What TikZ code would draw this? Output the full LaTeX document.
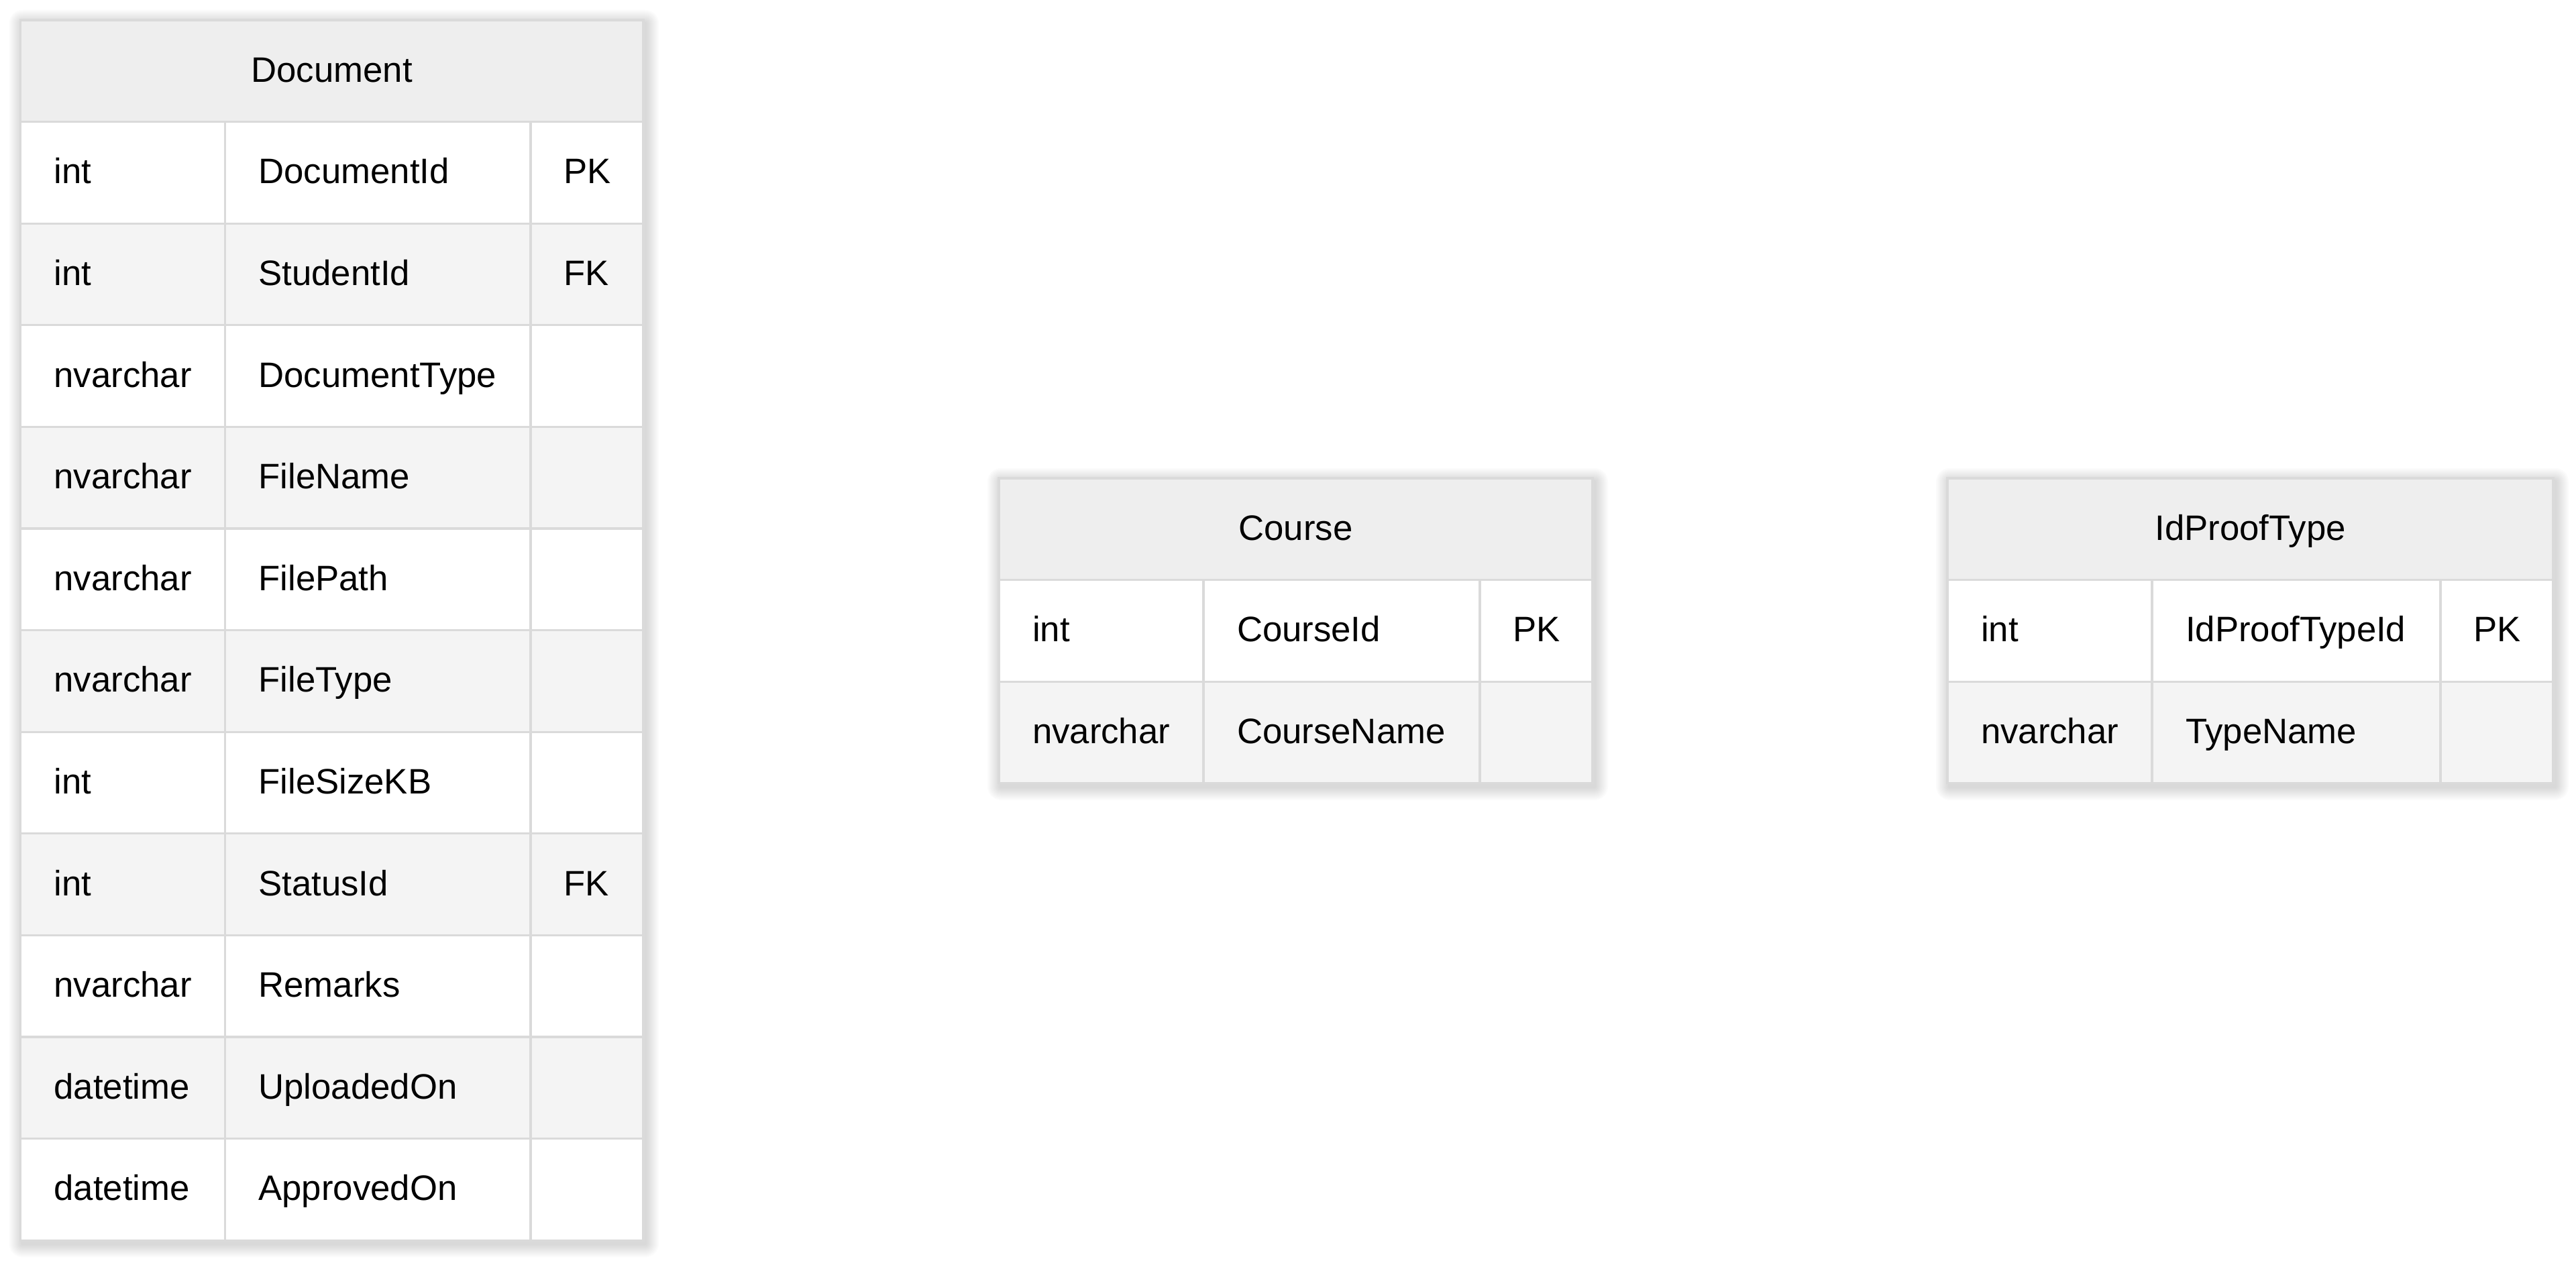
\documentclass[tikz,border=0pt]{standalone}
\usepackage{fontspec}
\setmainfont{Liberation Sans}
\usetikzlibrary{positioning,backgrounds}
\definecolor{rule}{RGB}{218,218,218}
\definecolor{headfill}{RGB}{238,238,238}
\definecolor{rowfill}{RGB}{244,244,244}
\tikzset{
  cell/.style={draw=rule, line width=0.9pt, outer sep=0pt, inner ysep=0pt,
    minimum height=1.516cm, text height=0.94em, text depth=0pt, align=left,
    font=\fontsize{15pt}{18pt}\selectfont},
  tcol/.style={cell, inner xsep=0.5cm, text width=2.05cm, anchor=north west},
  ncol/.style={cell, inner xsep=0.5cm, text width=#1},
  kcol/.style={cell, inner xsep=0.49cm, text width=0.7cm},
  head/.style={cell, fill=headfill, align=center, inner xsep=0.5cm, text width=#1, anchor=north west},
  shadowbox/.style={fill=black, opacity=0.014}
}
\begin{document}
\begin{tikzpicture}
\useasboundingbox (0,0) rectangle (38.4,-18.86);

% Document
\node[head=8.285cm] (doc) at (0.305,-0.30) {Document};
\foreach \ty/\nm/\ky [count=\i, evaluate=\i as \p using {int(100*(1-mod(\i,2)))}] in
  {int/DocumentId/PK, int/StudentId/FK, nvarchar/DocumentType/{}, nvarchar/FileName/{},
   nvarchar/FilePath/{}, nvarchar/FileType/{}, int/FileSizeKB/{}, int/StatusId/FK,
   nvarchar/Remarks/{}, datetime/UploadedOn/{}, datetime/ApprovedOn/{}}{
  \node[tcol, fill=rowfill!\p!white] (dt\i) at (0.305,{-0.30-1.516*\i}) {\ty};
  \node[ncol=3.555cm, fill=rowfill!\p!white, right=0pt of dt\i] (dn\i) {\nm};
  \node[kcol, fill=rowfill!\p!white, right=0pt of dn\i] (dk\i) {\ky};
}

% Course
\node[head=7.85cm] (course) at (14.89,-7.13) {Course};
\foreach \ty/\nm/\ky [count=\i, evaluate=\i as \p using {int(100*(1-mod(\i,2)))}] in
  {int/CourseId/PK, nvarchar/CourseName/{}}{
  \node[tcol, fill=rowfill!\p!white] (ct\i) at (14.89,{-7.13-1.516*\i}) {\ty};
  \node[ncol=3.12cm, fill=rowfill!\p!white, right=0pt of ct\i] (cn\i) {\nm};
  \node[kcol, fill=rowfill!\p!white, right=0pt of cn\i] (ck\i) {\ky};
}

% IdProofType
\node[head=8.03cm] (proof) at (29.03,-7.13) {IdProofType};
\foreach \ty/\nm/\ky [count=\i, evaluate=\i as \p using {int(100*(1-mod(\i,2)))}] in
  {int/IdProofTypeId/PK, nvarchar/TypeName/{}}{
  \node[tcol, fill=rowfill!\p!white] (pt\i) at (29.03,{-7.13-1.516*\i}) {\ty};
  \node[ncol=3.30cm, fill=rowfill!\p!white, right=0pt of pt\i] (pn\i) {\nm};
  \node[kcol, fill=rowfill!\p!white, right=0pt of pn\i] (pk\i) {\ky};
}

% soft shadows
\begin{scope}[on background layer]
\foreach \a/\b in {doc/dk11, course/ck2, proof/pk2}
  \foreach \s in {0.02,0.04,...,0.2}
    \fill[shadowbox, rounded corners=\s cm]
      ([shift={(0.03-\s,-0.05+\s)}]\a.north west) rectangle ([shift={(0.03+\s,-0.05-\s)}]\b.south east);
\end{scope}
\end{tikzpicture}
\end{document}
